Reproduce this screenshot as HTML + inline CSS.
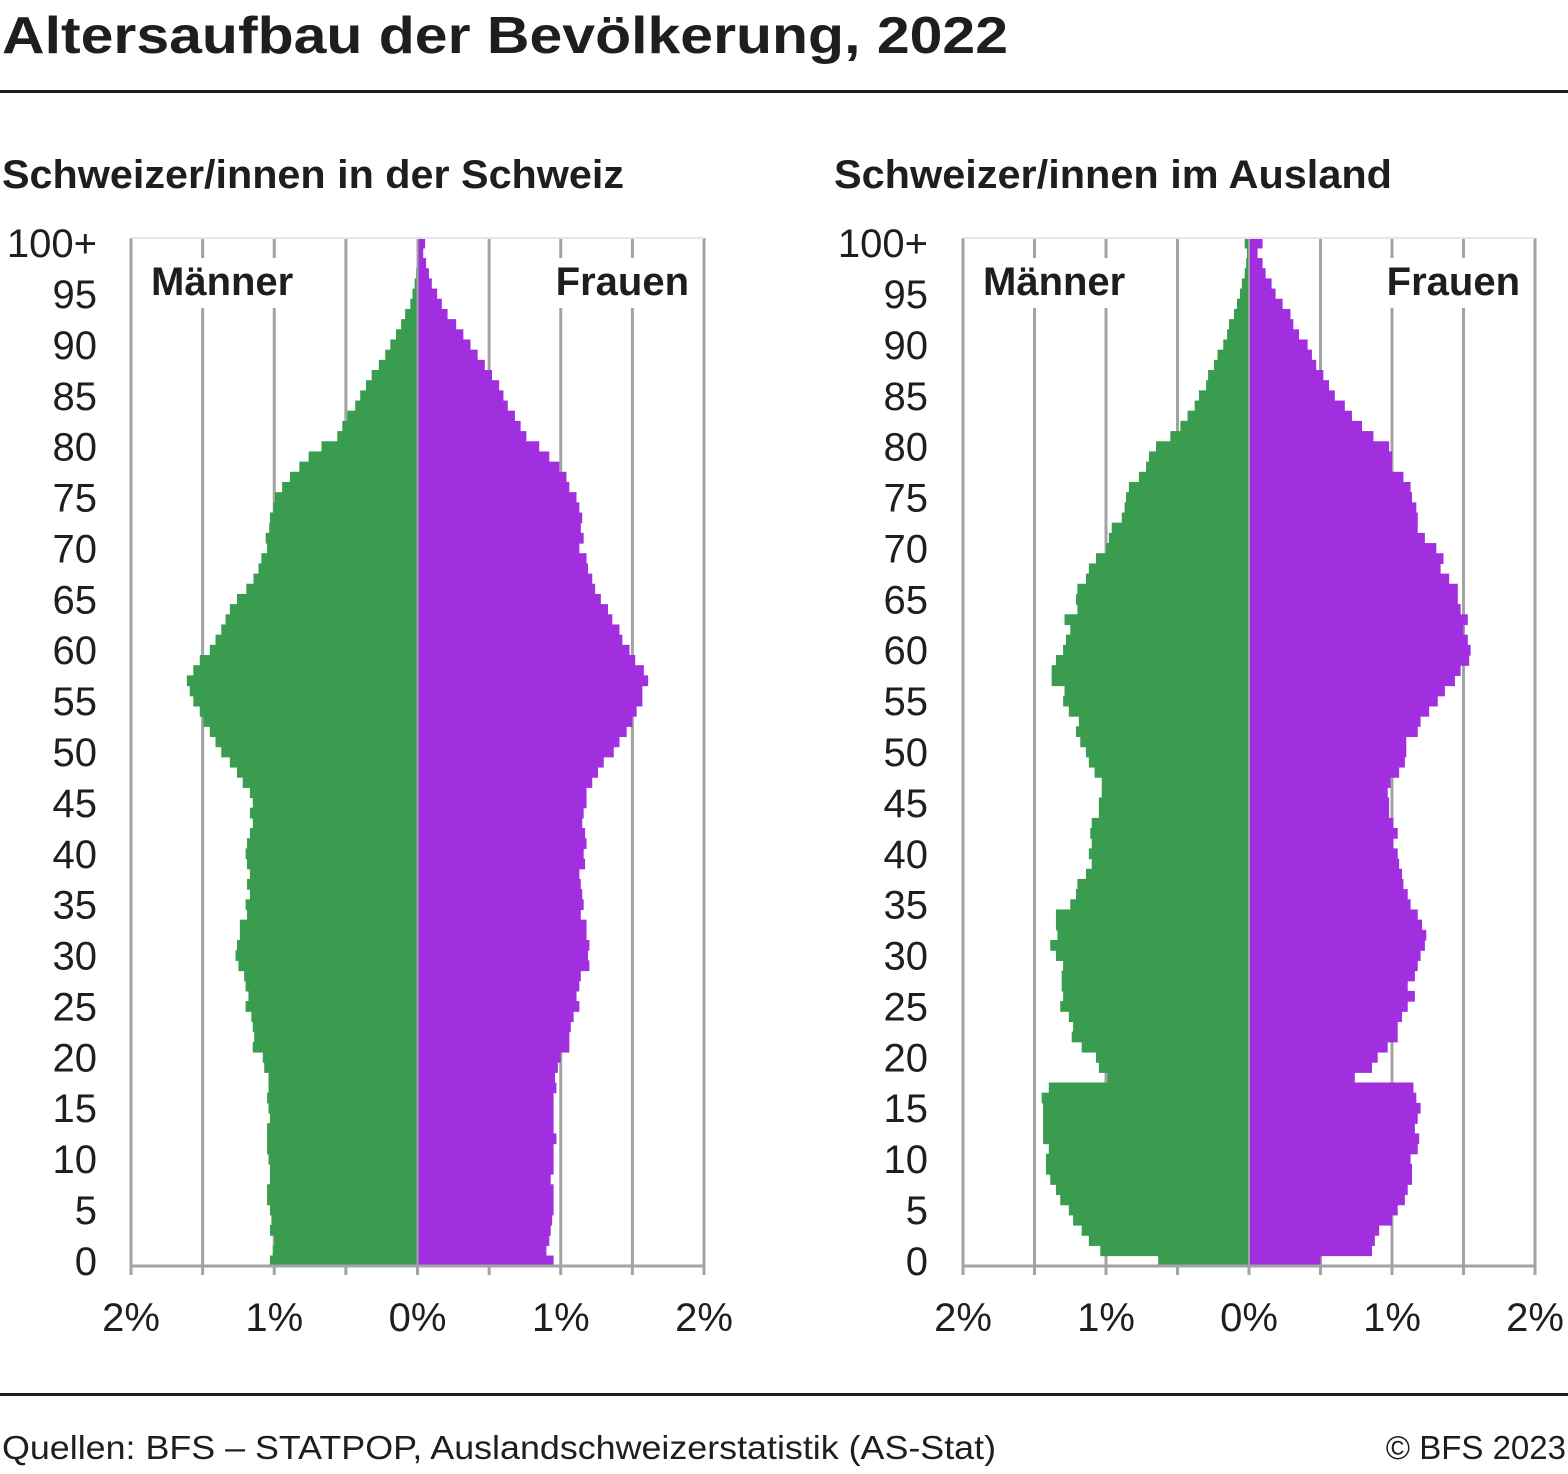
<!DOCTYPE html>
<html><head><meta charset="utf-8">
<style>
html,body{margin:0;padding:0;background:#fff;}
body{width:1568px;height:1469px;overflow:hidden;font-family:"Liberation Sans",Arial,sans-serif;}
svg text{font-family:"Liberation Sans",Arial,sans-serif;}
</style></head>
<body>
<svg id="chart" width="1568" height="1469" viewBox="0 0 1568 1469" xmlns="http://www.w3.org/2000/svg">
  <text x="2" y="53" font-size="52" font-weight="bold" fill="#1e1e1e" textLength="1006" lengthAdjust="spacingAndGlyphs">Altersaufbau der Bevölkerung, 2022</text>
  <rect x="0" y="90" width="1568" height="3" fill="#1e1e1e"/>
  <text x="2" y="188" font-size="40" font-weight="bold" fill="#1e1e1e" textLength="622" lengthAdjust="spacingAndGlyphs">Schweizer/innen in der Schweiz</text>
  <text x="834" y="188" font-size="40" font-weight="bold" fill="#1e1e1e" textLength="558" lengthAdjust="spacingAndGlyphs">Schweizer/innen im Ausland</text>
  <g id="panelL"></g>
  <g id="panelR"></g>
  <rect x="0" y="1393" width="1568" height="3" fill="#1e1e1e"/>
  <text x="2" y="1459" font-size="33" fill="#1e1e1e" textLength="994" lengthAdjust="spacingAndGlyphs">Quellen: BFS – STATPOP, Auslandschweizerstatistik (AS-Stat)</text>
  <text x="1566" y="1459" font-size="33" fill="#1e1e1e" text-anchor="end">© BFS 2023</text>
</svg>
<script>
// Ages listed from 100+ down to 0
const ageLabels = ["0","5","10","15","20","25","30","35","40","45","50","55","60","65","70","75","80","85","90","95","100+"];
const xTickLabels = ["2%","1%","0%","1%","2%"];
const xTickValues = [-2,-1,0,1,2];
const chMenDesc = [0,0,0,.01,.02,.035,.05,.086,.114,.15,.19,.225,.27,.32,.36,.40,.435,.49,.525,.56,.67,.76,.825,.89,.945,.995,1.007,1.03,1.035,1.06,1.05,1.09,1.11,1.145,1.195,1.26,1.31,1.34,1.37,1.41,1.45,1.52,1.565,1.61,1.59,1.565,1.52,1.495,1.45,1.41,
1.37,1.31,1.26,1.22,1.17,1.15,1.17,1.15,1.17,1.19,1.20,1.19,1.17,1.19,1.17,1.20,1.19,1.24,1.24,1.26,1.27,1.25,1.21,1.20,1.18,1.20,1.16,1.15,1.14,1.15,1.08,1.07,1.04,1.04,1.05,1.04,1.03,1.05,1.05,1.05,1.04,1.03,1.03,1.05,1.05,1.03,1.02,1.03,1.00,1.01,1.03];
const chWomenDesc = [.053,.04,.06,.08,.10,.137,.17,.21,.27,.32,.37,.42,.47,.52,.57,.60,.63,.68,.72,.76,.85,.92,.99,1.04,1.06,1.11,1.13,1.15,1.14,1.16,1.13,1.18,1.19,1.22,1.24,1.28,1.33,1.36,1.41,1.43,1.48,1.52,1.58,1.61,1.57,1.57,1.53,1.50,1.46,1.41,
1.37,1.30,1.26,1.22,1.18,1.18,1.16,1.15,1.17,1.18,1.16,1.17,1.13,1.14,1.15,1.16,1.14,1.18,1.18,1.20,1.19,1.20,1.14,1.13,1.11,1.13,1.09,1.07,1.06,1.06,1.00,0.98,0.96,0.97,0.95,0.95,0.95,0.95,0.97,0.95,0.95,0.95,0.93,0.95,0.95,0.95,0.94,0.93,0.92,0.90,0.95];
const abMenDesc = [.03,.014,.02,.03,.05,.063,.084,.105,.14,.153,.18,.22,.245,.286,.30,.35,.38,.43,.48,.55,.65,.70,.72,.77,.84,.86,.87,.89,.96,.98,1.00,1.07,1.12,1.14,1.20,1.21,1.20,1.29,1.25,1.28,1.30,1.35,1.38,1.38,1.29,1.30,1.26,1.19,1.21,1.18,
1.14,1.12,1.08,1.03,1.03,1.05,1.05,1.10,1.11,1.10,1.12,1.10,1.14,1.20,1.21,1.25,1.35,1.35,1.34,1.39,1.35,1.30,1.31,1.31,1.30,1.32,1.26,1.23,1.24,1.17,1.07,1.05,0.99,1.40,1.45,1.44,1.44,1.44,1.44,1.40,1.42,1.42,1.39,1.35,1.32,1.26,1.23,1.17,1.12,1.04,0.635];
const abWomenDesc = [.095,.06,.095,.116,.158,.186,.235,.29,.31,.35,.41,.44,.47,.52,.56,.60,.67,.72,.79,.87,.98,1.0,1.0,1.08,1.13,1.14,1.17,1.18,1.18,1.23,1.31,1.36,1.34,1.40,1.46,1.46,1.48,1.53,1.50,1.53,1.55,1.54,1.48,1.44,1.37,1.32,1.26,1.20,1.18,1.10,
1.10,1.09,1.05,0.99,0.97,0.98,0.98,1.01,1.04,1.01,1.04,1.05,1.07,1.08,1.11,1.13,1.18,1.21,1.24,1.23,1.20,1.18,1.16,1.11,1.16,1.11,1.07,1.04,1.04,0.97,0.90,0.86,0.74,1.15,1.17,1.20,1.18,1.16,1.19,1.18,1.13,1.14,1.14,1.11,1.09,1.04,1.00,0.91,0.88,0.86,0.50];

const NS = "http://www.w3.org/2000/svg";
const GREEN = "#3a9c4f", PURPLE = "#a22fdf", GRID = "#a3a3a3";
const yTop = 238, yBot = 1266, nBars = 101;
const barH = (yBot - yTop) / nBars;
function yOfAge(a){ return yBot - (a + 0.5) * barH; }
function mk(tag, attrs, parent){ const e = document.createElementNS(NS, tag); for (const k in attrs) e.setAttribute(k, attrs[k]); parent.appendChild(e); return e; }

function drawPanel(g, x0, x1, menDesc, womenDesc, labelRight){
  const zero = (x0 + x1) / 2;
  const pxPerPct = (x1 - x0) / 4;
  const xs = v => zero + v * pxPerPct;
  // gridlines
  for (let v = -1.5; v <= 1.5; v += 0.5) {
    if (v === 0) continue;
    const l = mk("line", {x1: xs(v), x2: xs(v), y1: yTop, y2: yBot, stroke: GRID, "stroke-width": 3}, g);
    
    
  }
  // bars
  for (let i = 0; i < menDesc.length; i++) {
    const age = 100 - i;
    const yc = yOfAge(age);
    const m = mk("rect", {x: xs(-menDesc[i]), y: yc - barH/2 - 0.3, width: menDesc[i]*pxPerPct, height: barH + 0.6, fill: GREEN}, g);
    
    
    const w = mk("rect", {x: zero, y: yc - barH/2 - 0.3, width: womenDesc[i]*pxPerPct, height: barH + 0.6, fill: PURPLE}, g);
    
    
  }
  // centre line
  const c = mk("line", {x1: zero, x2: zero, y1: yTop, y2: yBot, stroke: GRID, "stroke-width": 2}, g);
  
  
  // frame
  const fr = mk("path", {d: `M${x0},${yTop} V${yBot} H${x1} V${yTop}`, fill: "none", stroke: GRID, "stroke-width": 3}, g);
  
  
  const tp = mk("line", {x1: x0, x2: x1, y1: yTop, y2: yTop, stroke: "#e6e6e6", "stroke-width": 2}, g);
  
  
  // label backgrounds
  const bg1 = mk("rect", {x: x0 + 16, y: 258, width: 160, height: 50, fill: "#fff"}, g);
  
  
  const bg2 = mk("rect", {x: x1 - 153, y: 258, width: 140, height: 50, fill: "#fff"}, g);
  
  
  const t1 = mk("text", {x: x0 + 20, y: 295, "font-size": 40, "font-weight": "bold", fill: "#1e1e1e"}, g);
  t1.textContent = "Männer";
  
  
  const t2 = mk("text", {x: x1 - 15, y: 295, "font-size": 40, "font-weight": "bold", fill: "#1e1e1e", "text-anchor": "end"}, g);
  t2.textContent = "Frauen";
  
  
  // y labels
  ageLabels.forEach((lab, i) => {
    const t = mk("text", {x: labelRight, y: yOfAge(i*5) + 14, "font-size": 40, fill: "#1e1e1e", "text-anchor": "end"}, g);
    t.textContent = lab;
    
    
  });
  // x ticks
  for (let v = -2; v <= 2; v += 0.5) {
    const tk = mk("line", {x1: xs(v), x2: xs(v), y1: yBot, y2: yBot + 9, stroke: GRID, "stroke-width": 3}, g);
    
    
  }
  xTickLabels.forEach((lab, i) => {
    const t = mk("text", {x: xs(xTickValues[i]), y: 1331, "font-size": 40, fill: "#1e1e1e", "text-anchor": "middle"}, g);
    t.textContent = lab;
    
    
  });
}
drawPanel(document.getElementById("panelL"), 131, 704, chMenDesc, chWomenDesc, 97);
drawPanel(document.getElementById("panelR"), 963, 1535, abMenDesc, abWomenDesc, 928);
</script>
</body></html>
